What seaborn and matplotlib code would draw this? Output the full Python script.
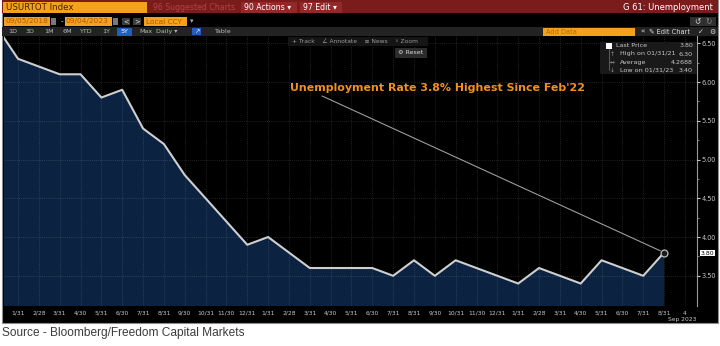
import matplotlib
matplotlib.use("Agg")
import matplotlib.pyplot as plt
from matplotlib.patches import Rectangle
import seaborn as sns
import pandas as pd

# US unemployment rate (%), month-end prints; the first point is the lead-in month
months = ["2020-12", "2021-01", "2021-02", "2021-03", "2021-04", "2021-05", "2021-06",
          "2021-07", "2021-08", "2021-09", "2021-10", "2021-11", "2021-12",
          "2022-01", "2022-02", "2022-03", "2022-04", "2022-05", "2022-06",
          "2022-07", "2022-08", "2022-09", "2022-10", "2022-11", "2022-12",
          "2023-01", "2023-02", "2023-03", "2023-04", "2023-05", "2023-06",
          "2023-07", "2023-08"]
rate = [6.7, 6.3, 6.2, 6.1, 6.1, 5.8, 5.9, 5.4, 5.2, 4.8, 4.5, 4.2, 3.9,
        4.0, 3.8, 3.6, 3.6, 3.6, 3.6, 3.5, 3.7, 3.5, 3.7, 3.6, 3.5,
        3.4, 3.6, 3.5, 3.4, 3.7, 3.6, 3.5, 3.8]
tick_labels = ["1/31", "2/28", "3/31", "4/30", "5/31", "6/30", "7/31", "8/31",
               "9/30", "10/31", "11/30", "12/31",
               "1/31", "2/28", "3/31", "4/30", "5/31", "6/30", "7/31", "8/31",
               "9/30", "10/31", "11/30", "12/31",
               "1/31", "2/28", "3/31", "4/30", "5/31", "6/30", "7/31", "8/31", "4"]
y_ticks = [3.5, 4.0, 4.5, 5.0, 5.5, 6.0, 6.5]
headline = "Unemployment Rate 3.8% Highest Since Feb'22"

df = pd.DataFrame({"month": months, "rate": rate})
df["pos"] = range(len(df))
window = df.iloc[1:]
last = df["rate"].iloc[-1]
hi_row = window.loc[window["rate"].idxmax()]
lo_row = window.loc[window["rate"].idxmin()]
avg = window["rate"].mean()


def mdy(m):
    y, mo = m.split("-")
    return f"{mo}/{tick_labels[int(mo) - 1].split('/')[1]}/{y[2:]}"


sns.set_theme(style="dark")
plt.rcParams["font.family"] = ["DejaVu Sans"]

W, H = 720, 346
fig = plt.figure(figsize=(W / 100, H / 100), dpi=100, facecolor="white")

# pixel-space layer for the terminal chrome behind the chart
bg = fig.add_axes([0, 0, 1, 1], zorder=0)
bg.set_xlim(0, W)
bg.set_ylim(H, 0)
bg.axis("off")

ORANGE = "#f4a11d"
DRED = "#7b1c1c"
BRED = "#922828"


def box(a, x0, y0, x1, y1, fc, ec="none", lw=0, z=1):
    a.add_patch(Rectangle((x0, y0), x1 - x0, y1 - y0, fc=fc, ec=ec, lw=lw, zorder=z))


def txt(a, x, y, s, size=5, color="#c8c8c8", ha="left", weight="normal", z=3, **kw):
    a.text(x, y, s, fontsize=size, color=color, ha=ha, va="center",
           fontweight=weight, zorder=z, **kw)


# panel
box(bg, 2, 0, 718, 323, "black", ec="#8c8c8c", lw=0.8)
# title row
box(bg, 2, 0, 718, 13, DRED)
box(bg, 3, 2, 147, 13, ORANGE)
txt(bg, 6, 7.5, "USURTOT Index", 6.2, "#3b2608")
txt(bg, 153, 7.5, "96 Suggested Charts", 5.6, "#b04444")
box(bg, 241, 1.5, 297, 13, BRED)
txt(bg, 244, 7.5, "90 Actions \u25be", 5.6, "white")
box(bg, 300, 1.5, 342, 13, BRED)
txt(bg, 303, 7.5, "97 Edit \u25be", 5.6, "white")
txt(bg, 713, 7.5, "G 61: Unemployment", 6.0, "white", ha="right")
# date row
box(bg, 4, 17, 50, 26, ORANGE)
txt(bg, 5, 21.5, "09/05/2018", 5.3, "#a35e00")
box(bg, 51, 18, 56, 25, "#7a7a7a")
txt(bg, 61, 21.5, "-", 5.3, "white")
box(bg, 65, 17, 112, 26, ORANGE)
txt(bg, 66, 21.5, "09/04/2023", 5.3, "#a35e00")
box(bg, 112.5, 18, 117.5, 25, "#7a7a7a")
box(bg, 122, 18, 130, 25, "#3c3c3c")
txt(bg, 126, 21.5, "<", 4.8, "#dddddd", ha="center")
box(bg, 133, 18, 141, 25, "#3c3c3c")
txt(bg, 137, 21.5, ">", 4.8, "#dddddd", ha="center")
box(bg, 144, 17, 187, 26, ORANGE)
txt(bg, 146, 21.5, "Local CCY", 5.3, "#a35e00")
txt(bg, 192, 21.5, "\u25be", 5, "#aaaaaa", ha="center")
box(bg, 690, 17, 716, 25.5, "#303030")
txt(bg, 697, 21.3, "\u21ba", 5.5, "#dddddd", ha="center")
txt(bg, 709, 21.3, "\u21bb", 5.5, "#888888", ha="center")
# range row
box(bg, 2, 27, 718, 36, "#232323")
for x, s in [(13, "1D"), (30, "3D"), (49, "1M"), (67, "6M"), (85, "YTD"),
             (106, "1Y"), (146, "Max"), (167, "Daily \u25be"), (222, "Table")]:
    txt(bg, x, 31.6, s, 4.6, "#b8b8b8", ha="center")
box(bg, 117, 27.5, 132, 35.5, "#1f5fbf")
txt(bg, 124.5, 31.6, "5Y", 4.6, "white", ha="center")
box(bg, 192, 28, 201, 35, "#1f5fbf")
txt(bg, 196.5, 31.6, "\u2197", 4.6, "white", ha="center")
box(bg, 543, 27.5, 635, 35.5, ORANGE)
txt(bg, 546, 31.6, "Add Data", 4.8, "#b56a00")
txt(bg, 643, 31.6, "\u00ab", 5.2, "#dddddd", ha="center")
txt(bg, 649, 31.6, "\u270e Edit Chart", 4.8, "#dddddd")
txt(bg, 701, 31.6, "\u2713", 5, "#dddddd", ha="center")
txt(bg, 712, 31.6, "\u2699", 5, "#dddddd", ha="center")
# source line
bg.text(2, 333, "Source - Bloomberg/Freedom Capital Markets", fontsize=8.6,
        color="#3c3c3c", va="center", ha="left", family=["Liberation Sans", "DejaVu Sans"])

# ---- chart ----
ax = fig.add_axes([4 / W, 1 - 306 / H, 693 / W, 270 / H], zorder=1)
ax.set_facecolor("black")
ax.fill_between(df["pos"], df["rate"], 0, color="#0b2241", lw=0, zorder=1)
sns.lineplot(data=df, x="pos", y="rate", ax=ax, color="#cfcfcf", lw=1.5, zorder=3)

ax.set_xlim(0.328, 33.58)
ax.set_ylim(3.11, 6.594)
ax.set_xticks(range(1, len(tick_labels) + 1))
ax.set_xticklabels(tick_labels)
ax.set_yticks(y_ticks)
ax.set_yticklabels([f"{v:.2f}" for v in y_ticks])
ax.set_yticks([v + 0.25 for v in y_ticks[:-1]], minor=True)
ax.yaxis.tick_right()
ax.set_xlabel("")
ax.set_ylabel("")
ax.tick_params(axis="x", colors="#c8c8c8", labelsize=4.3, length=1.5, pad=2,
               color="#777777")
ax.tick_params(axis="y", which="major", colors="#c8c8c8", labelsize=4.7,
               length=2, pad=1.5, width=0.8)
ax.tick_params(axis="y", which="minor", color="#999999", length=1.5, width=0.6)
for side in ["left", "top", "bottom"]:
    ax.spines[side].set_visible(False)
ax.spines["right"].set_color("#9a9a9a")
ax.spines["right"].set_linewidth(0.8)
ax.set_axisbelow(False)
ax.grid(True, which="major", color="white", alpha=0.18, lw=0.6, ls=(0, (1, 1.5)))

# headline annotation tied to the latest print
ax.annotate("", xy=(df["pos"].iloc[-1], last), xytext=(15.59, 5.82),
            arrowprops=dict(arrowstyle="-", color="#9c9c9c", lw=0.8,
                            shrinkA=0, shrinkB=3), zorder=4)
ax.plot(df["pos"].iloc[-1], last, marker="o", ms=5, mfc="#1b1b1b",
        mec="#bdbdbd", mew=0.9, zorder=5)
ax.text(14.05, 5.92, headline, fontsize=7.95, fontweight="bold", color="#f0921c",
        va="center", ha="left", zorder=5)

# ---- overlays on top of the chart ----
fg = fig.add_axes([0, 0, 1, 1], zorder=2)
fg.set_xlim(0, W)
fg.set_ylim(H, 0)
fg.axis("off")

box(fg, 288, 37, 428, 45.5, "#151515")
txt(fg, 292, 41.2, "+ Track    \u2220 Annotate    \u2261 News    \u25e6 Zoom", 4.3, "#9a9a9a")
box(fg, 395, 48, 427, 58, "#2c2c2c")
txt(fg, 411, 53, "\u2699 Reset", 4.5, "#d8d8d8", ha="center")

# stats panel
box(fg, 600, 41.5, 697, 73.5, "#191919")
box(fg, 606, 43, 612, 49, "white")
fg.plot([609, 609], [49, 70], color="#777777", lw=0.5)
txt(fg, 616, 45.8, "Last Price", 4.6)
txt(fg, 693, 45.8, f"{last:.2f}", 4.6, ha="right")
txt(fg, 612, 54, "\u2191", 4.2, "#999999", ha="center")
txt(fg, 620, 54, f"High on {mdy(hi_row['month'])}", 4.6)
txt(fg, 693, 54, f"{hi_row['rate']:.2f}", 4.6, ha="right")
txt(fg, 612, 62.2, "\u2194", 4.2, "#999999", ha="center")
txt(fg, 620, 62.2, "Average", 4.6)
txt(fg, 693, 62.2, f"{avg:.4f}", 4.6, ha="right")
txt(fg, 612, 70.3, "\u2193", 4.2, "#999999", ha="center")
txt(fg, 620, 70.3, f"Low on {mdy(lo_row['month'])}", 4.6)
txt(fg, 693, 70.3, f"{lo_row['rate']:.2f}", 4.6, ha="right")

# last value tag on the price axis
box(fg, 699.5, 250.3, 715, 256.3, "white")
txt(fg, 707.3, 253.3, f"{last:.2f}", 4.4, "black", ha="center")

txt(fg, 682, 319, "Sep 2023", 4.3, "#c8c8c8", ha="center")

fig.savefig("out.png", dpi=100, facecolor="white")
